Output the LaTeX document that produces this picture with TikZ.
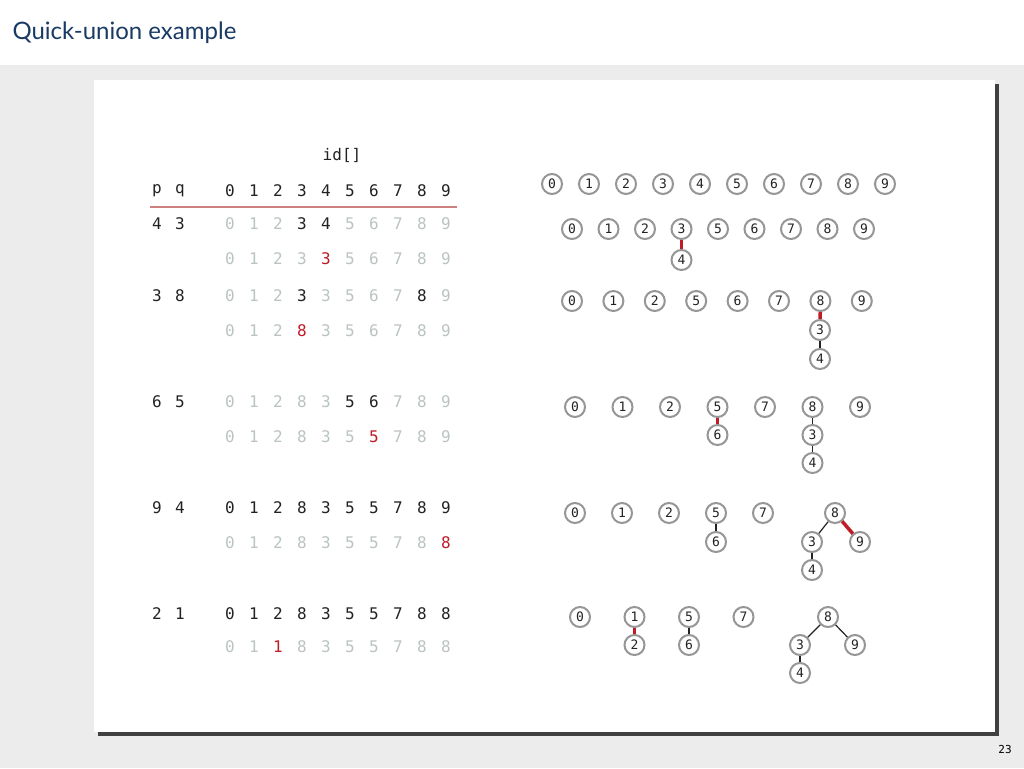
\documentclass[tikz,border=0pt]{standalone}
\usepackage{fontspec}
\setmainfont{Lato}
\setmonofont{DejaVu Sans Mono}
\definecolor{slidegray}{RGB}{236,236,236}
\definecolor{shadowcol}{RGB}{64,64,64}
\definecolor{titleblue}{RGB}{24,58,100}
\definecolor{fadecol}{RGB}{186,196,192}
\definecolor{inkcol}{RGB}{34,34,34}
\definecolor{hotcol}{RGB}{192,28,40}
\definecolor{rulecol}{RGB}{204,128,128}
\definecolor{ringcol}{RGB}{150,150,150}
\tikzset{
  digit/.style={font=\ttfamily\fontsize{16}{16}\selectfont, inner sep=0pt},
  idfade/.style={text=fadecol}, idink/.style={text=inkcol}, idhot/.style={text=hotcol},
  site/.style={circle, draw=ringcol, line width=2pt, minimum size=20pt, inner sep=0pt,
    text=inkcol, font=\ttfamily\fontsize{13}{13}\selectfont},
  treelink/.style={draw=inkcol, line width=1.2pt},
  newlink/.style={draw=hotcol, line width=3.5pt}
}
\begin{document}
\begin{tikzpicture}[x=1pt, y=-1pt]
\useasboundingbox (0,0) rectangle (1024,768);
\fill [slidegray] (0,65) rectangle (1024,768);
\fill [shadowcol] (98,84) rectangle (999,736);
\fill [white] (94,80) rectangle (995,732);

\node [anchor=base west, text=titleblue, font=\fontsize{24}{24}\selectfont] (title) at (9,40) {Quick-union example};
\node [font=\ttfamily\fontsize{11}{11}\selectfont] (page) at (1005,749) {23};

% the id[] table
\node [digit, idink] (id) at (342,155) {id[]};
\node [digit, idink] (p) at (157,191) {p};
\node [digit, idink] (q) at (180,191) {q};
\foreach \i in {0,...,9}
  \node [digit, idink] (h\i) at (230+24*\i,191) {\i};
\draw [rulecol, line width=2pt] (150,207) -- (457,207);

% 4 3
\node [digit, idink] (p1) at (157,224) {4};
\node [digit, idink] (q1) at (180,224) {3};
\foreach \v/\s [count=\i from 0] in {0/idfade,1/idfade,2/idfade,3/idink,4/idink,5/idfade,6/idfade,7/idfade,8/idfade,9/idfade}
  \node [digit, \s] (a\i) at (230+24*\i,224) {\v};
\foreach \v/\s [count=\i from 0] in {0/idfade,1/idfade,2/idfade,3/idfade,3/idhot,5/idfade,6/idfade,7/idfade,8/idfade,9/idfade}
  \node [digit, \s] (aa\i) at (230+24*\i,259) {\v};

% 3 8
\node [digit, idink] (p2) at (157,296) {3};
\node [digit, idink] (q2) at (180,296) {8};
\foreach \v/\s [count=\i from 0] in {0/idfade,1/idfade,2/idfade,3/idink,3/idfade,5/idfade,6/idfade,7/idfade,8/idink,9/idfade}
  \node [digit, \s] (b\i) at (230+24*\i,296) {\v};
\foreach \v/\s [count=\i from 0] in {0/idfade,1/idfade,2/idfade,8/idhot,3/idfade,5/idfade,6/idfade,7/idfade,8/idfade,9/idfade}
  \node [digit, \s] (bb\i) at (230+24*\i,331) {\v};

% 6 5
\node [digit, idink] (p3) at (157,402) {6};
\node [digit, idink] (q3) at (180,402) {5};
\foreach \v/\s [count=\i from 0] in {0/idfade,1/idfade,2/idfade,8/idfade,3/idfade,5/idink,6/idink,7/idfade,8/idfade,9/idfade}
  \node [digit, \s] (c\i) at (230+24*\i,402) {\v};
\foreach \v/\s [count=\i from 0] in {0/idfade,1/idfade,2/idfade,8/idfade,3/idfade,5/idfade,5/idhot,7/idfade,8/idfade,9/idfade}
  \node [digit, \s] (cc\i) at (230+24*\i,437) {\v};

% 9 4
\node [digit, idink] (p4) at (157,508) {9};
\node [digit, idink] (q4) at (180,508) {4};
\foreach \v [count=\i from 0] in {0,1,2,8,3,5,5,7,8,9}
  \node [digit, idink] (d\i) at (230+24*\i,508) {\v};
\foreach \v/\s [count=\i from 0] in {0/idfade,1/idfade,2/idfade,8/idfade,3/idfade,5/idfade,5/idfade,7/idfade,8/idfade,8/idhot}
  \node [digit, \s] (dd\i) at (230+24*\i,543) {\v};

% 2 1
\node [digit, idink] (p5) at (157,614) {2};
\node [digit, idink] (q5) at (180,614) {1};
\foreach \v [count=\i from 0] in {0,1,2,8,3,5,5,7,8,8}
  \node [digit, idink] (e\i) at (230+24*\i,614) {\v};
\foreach \v/\s [count=\i from 0] in {0/idfade,1/idfade,1/idhot,8/idfade,3/idfade,5/idfade,5/idfade,7/idfade,8/idfade,8/idfade}
  \node [digit, \s] (ee\i) at (230+24*\i,647) {\v};

% the forests
\foreach \n [count=\k from 0] in {0,...,9}
  \node [site] (s\n) at (552+37*\k,184) {\n};

\foreach \n [count=\k from 0] in {0,1,2,3,5,6,7,8,9}
  \node [site] (t\n) at (572+36.5*\k,229) {\n};
\node [site] (t4) at (681.5,260) {4};
\draw [newlink] (t3) -- (t4);

\foreach \n [count=\k from 0] in {0,1,2,5,6,7,8,9}
  \node [site] (u\n) at (572+41.4*\k,301) {\n};
\node [site] (u3) at (820,330) {3};
\node [site] (u4) at (820,359) {4};
\draw [newlink] (u8) -- (u3);
\draw [treelink] (u3) -- (u4);

\foreach \n [count=\k from 0] in {0,1,2,5,7,8,9}
  \node [site] (v\n) at (575+47.5*\k,407) {\n};
\node [site] (v6) at (717.5,435) {6};
\node [site] (v3) at (812.5,435) {3};
\node [site] (v4) at (812.5,463) {4};
\draw [newlink] (v5) -- (v6);
\draw [treelink] (v8) -- (v3);
\draw [treelink] (v3) -- (v4);

\foreach \n [count=\k from 0] in {0,1,2,5,7}
  \node [site] (w\n) at (575+47*\k,513) {\n};
\node [site] (w8) at (835,513) {8};
\node [site] (w6) at (716,542) {6};
\node [site] (w3) at (812,542) {3};
\node [site] (w9) at (860,542) {9};
\node [site] (w4) at (812,570) {4};
\draw [treelink] (w5) -- (w6);
\draw [treelink] (w8) -- (w3);
\draw [newlink] (w8) -- (w9);
\draw [treelink] (w3) -- (w4);

\foreach \n [count=\k from 0] in {0,1,5,7}
  \node [site] (z\n) at (580+54.5*\k,617) {\n};
\node [site] (z8) at (828,617) {8};
\node [site] (z2) at (634.5,645) {2};
\node [site] (z6) at (689,645) {6};
\node [site] (z3) at (800,645) {3};
\node [site] (z9) at (855,645) {9};
\node [site] (z4) at (800,673) {4};
\draw [newlink] (z1) -- (z2);
\draw [treelink] (z5) -- (z6);
\draw [treelink] (z8) -- (z3);
\draw [treelink] (z8) -- (z9);
\draw [treelink] (z3) -- (z4);
\end{tikzpicture}
\end{document}
